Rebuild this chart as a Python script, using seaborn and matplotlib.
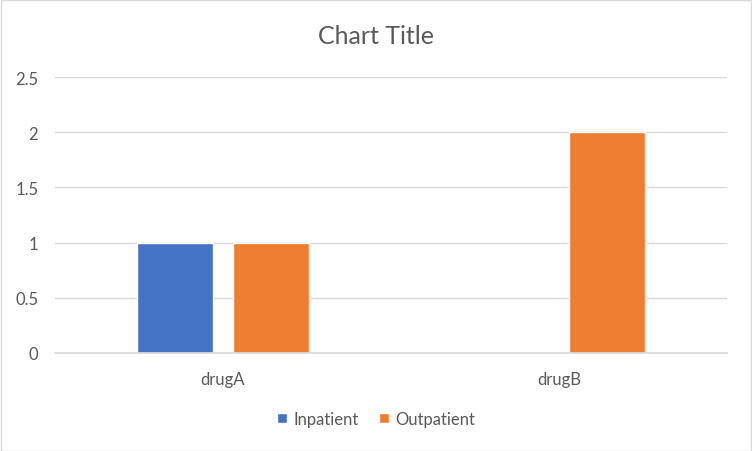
import pandas as pd
import matplotlib.pyplot as plt
import seaborn as sns
from matplotlib.patches import Rectangle

# data
drugs = ["drugA", "drugB"]
inpatient = [1, 0]
outpatient = [1, 2]
series_names = ["Inpatient", "Outpatient"]
colors = ["#4472C4", "#ED7D31"]

df = pd.DataFrame({
    "drug": drugs * 2,
    "series": [series_names[0]] * 2 + [series_names[1]] * 2,
    "value": inpatient + outpatient,
})

sns.set_theme(style="white")
plt.rcParams['font.family'] = ['Lato', 'DejaVu Sans']

fig = plt.figure(figsize=(7.52, 4.52), dpi=100)
ax = fig.add_axes([0.073, 0.217, 0.894, 0.61])

sns.barplot(data=df, x="drug", y="value", hue="series", palette=colors,
            width=0.571, gap=0.21, saturation=1, ax=ax, legend=True)

ax.set_xlim(-0.5, 1.5)
ax.set_ylim(0, 2.5)
ax.set_yticks([0, 0.5, 1, 1.5, 2, 2.5])
ax.set_yticklabels(["0", "0.5", "1", "1.5", "2", "2.5"])
ax.yaxis.grid(True, color="#D9D9D9", linewidth=1)
ax.set_axisbelow(True)
for s in ["top", "right", "left"]:
    ax.spines[s].set_visible(False)
ax.spines["bottom"].set_color("#D9D9D9")
ax.tick_params(axis="both", length=0, labelsize=12, colors="#595959")
ax.tick_params(axis="x", pad=13)
ax.tick_params(axis="y", pad=12)
ax.set_xlabel("")
ax.set_ylabel("")

fig.suptitle("Chart Title", x=0.5, y=0.945, fontsize=18, color="#595959")

handles, labels = ax.get_legend_handles_labels()
ax.legend(handles, labels, loc="center", bbox_to_anchor=(0.5, 0.071),
          bbox_transform=fig.transFigure, ncol=2, frameon=False,
          handlelength=0.6, handleheight=0.6, handletextpad=0.4,
          columnspacing=1.2, fontsize=12, labelcolor="#595959")

fig.patches.append(Rectangle((0.0007, 0.001), 0.9986, 0.997, transform=fig.transFigure,
                             fill=False, edgecolor="#D9D9D9", linewidth=1))

fig.savefig("out.png", dpi=100)
